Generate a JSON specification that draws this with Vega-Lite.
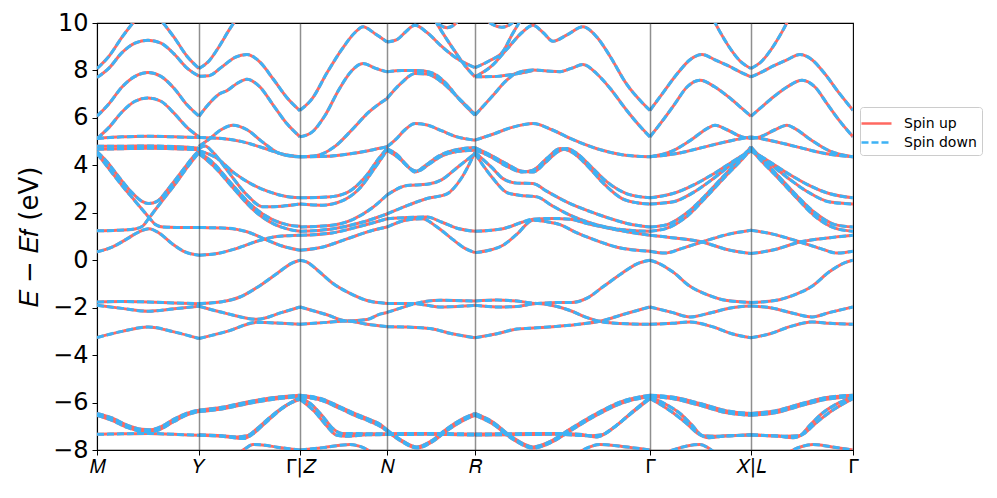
{
"$schema":"https://vega.github.io/schema/vega-lite/v6.json",
"width":756,"height":427,
"autosize":{"type":"none"},
"padding":{"left":97,"top":23,"right":144,"bottom":48},
"background":"white",
"config":{"view":{"stroke":"black","strokeWidth":1.1},"font":"DejaVu Sans"},
"data":{"values":[
{"b":"p1a","x":0,"e":8.08},{"b":"p1a","x":12,"e":8.6},{"b":"p1a","x":25,"e":9.4},{"b":"p1a","x":38,"e":10.1},{"b":"p1a","x":51,"e":10.6},{"b":"p1a","x":64,"e":10.1},{"b":"p1a","x":77,"e":9.4},{"b":"p1a","x":90,"e":8.6},{"b":"p1a","x":102,"e":8.08},
{"b":"p1b","x":0,"e":7.7},{"b":"p1b","x":12,"e":8.1},{"b":"p1b","x":25,"e":8.75},{"b":"p1b","x":38,"e":9.15},{"b":"p1b","x":51,"e":9.27},{"b":"p1b","x":64,"e":9.15},{"b":"p1b","x":77,"e":8.7},{"b":"p1b","x":90,"e":8.1},{"b":"p1b","x":102,"e":7.76},
{"b":"p1c","x":0,"e":6.07},{"b":"p1c","x":12,"e":6.6},{"b":"p1c","x":25,"e":7.3},{"b":"p1c","x":38,"e":7.75},{"b":"p1c","x":51,"e":7.91},{"b":"p1c","x":64,"e":7.75},{"b":"p1c","x":77,"e":7.25},{"b":"p1c","x":90,"e":6.55},{"b":"p1c","x":102,"e":6.07},
{"b":"p1d","x":0,"e":5.13},{"b":"p1d","x":12,"e":5.6},{"b":"p1d","x":25,"e":6.25},{"b":"p1d","x":38,"e":6.7},{"b":"p1d","x":51,"e":6.84},{"b":"p1d","x":64,"e":6.7},{"b":"p1d","x":77,"e":6.2},{"b":"p1d","x":90,"e":5.6},{"b":"p1d","x":102,"e":5.2},
{"b":"p1e","x":0,"e":5.13},{"b":"p1e","x":25,"e":5.2},{"b":"p1e","x":51,"e":5.23},{"b":"p1e","x":77,"e":5.2},{"b":"p1e","x":102,"e":5.17},
{"b":"p1f","x":0,"e":4.8},{"b":"p1f","x":25,"e":4.8},{"b":"p1f","x":51,"e":4.82},{"b":"p1f","x":77,"e":4.79},{"b":"p1f","x":102,"e":4.72},
{"b":"p1g","x":0,"e":4.68},{"b":"p1g","x":25,"e":4.7},{"b":"p1g","x":51,"e":4.72},{"b":"p1g","x":77,"e":4.7},{"b":"p1g","x":102,"e":4.66},
{"b":"p1v","x":0,"e":4.58},{"b":"p1v","x":10,"e":4.15},{"b":"p1v","x":22,"e":3.5},{"b":"p1v","x":35,"e":2.85},{"b":"p1v","x":45,"e":2.48},{"b":"p1v","x":52,"e":2.39},{"b":"p1v","x":60,"e":2.48},{"b":"p1v","x":72,"e":3.05},{"b":"p1v","x":85,"e":3.75},{"b":"p1v","x":95,"e":4.3},{"b":"p1v","x":102,"e":4.62},
{"b":"p1xa","x":0,"e":4.5},{"b":"p1xa","x":12,"e":3.85},{"b":"p1xa","x":25,"e":3.15},{"b":"p1xa","x":38,"e":2.5},{"b":"p1xa","x":48,"e":2.0},{"b":"p1xa","x":53,"e":1.75},{"b":"p1xa","x":58,"e":1.52},{"b":"p1xa","x":66,"e":1.4},{"b":"p1xa","x":80,"e":1.38},{"b":"p1xa","x":102,"e":1.38},
{"b":"p1xb","x":0,"e":1.24},{"b":"p1xb","x":20,"e":1.26},{"b":"p1xb","x":38,"e":1.32},{"b":"p1xb","x":46,"e":1.45},{"b":"p1xb","x":51,"e":1.72},{"b":"p1xb","x":56,"e":2.0},{"b":"p1xb","x":66,"e":2.55},{"b":"p1xb","x":78,"e":3.2},{"b":"p1xb","x":90,"e":3.9},{"b":"p1xb","x":102,"e":4.55},
{"b":"p1c0","x":0,"e":0.35},{"b":"p1c0","x":15,"e":0.55},{"b":"p1c0","x":30,"e":0.9},{"b":"p1c0","x":42,"e":1.2},{"b":"p1c0","x":52,"e":1.33},{"b":"p1c0","x":62,"e":1.15},{"b":"p1c0","x":75,"e":0.7},{"b":"p1c0","x":88,"e":0.35},{"b":"p1c0","x":102,"e":0.21},
{"b":"p1v1","x":0,"e":-1.76},{"b":"p1v1","x":25,"e":-1.74},{"b":"p1v1","x":51,"e":-1.76},{"b":"p1v1","x":77,"e":-1.8},{"b":"p1v1","x":102,"e":-1.83},
{"b":"p1v2","x":0,"e":-1.9},{"b":"p1v2","x":25,"e":-2.03},{"b":"p1v2","x":51,"e":-2.15},{"b":"p1v2","x":77,"e":-2.05},{"b":"p1v2","x":102,"e":-1.94},
{"b":"p1v3","x":0,"e":-3.26},{"b":"p1v3","x":25,"e":-3.0},{"b":"p1v3","x":51,"e":-2.81},{"b":"p1v3","x":77,"e":-3.02},{"b":"p1v3","x":102,"e":-3.3},
{"b":"p1d1","x":0,"e":-6.46},{"b":"p1d1","x":15,"e":-6.65},{"b":"p1d1","x":30,"e":-6.95},{"b":"p1d1","x":45,"e":-7.13},{"b":"p1d1","x":53,"e":-7.15},{"b":"p1d1","x":62,"e":-7.05},{"b":"p1d1","x":77,"e":-6.7},{"b":"p1d1","x":90,"e":-6.45},{"b":"p1d1","x":102,"e":-6.32},
{"b":"p1d1b","x":0,"e":-6.54},{"b":"p1d1b","x":15,"e":-6.75},{"b":"p1d1b","x":30,"e":-7.05},{"b":"p1d1b","x":45,"e":-7.22},{"b":"p1d1b","x":53,"e":-7.25},{"b":"p1d1b","x":62,"e":-7.15},{"b":"p1d1b","x":77,"e":-6.8},{"b":"p1d1b","x":90,"e":-6.52},{"b":"p1d1b","x":102,"e":-6.38},
{"b":"p1d2","x":0,"e":-7.34},{"b":"p1d2","x":25,"e":-7.32},{"b":"p1d2","x":51,"e":-7.3},{"b":"p1d2","x":77,"e":-7.34},{"b":"p1d2","x":102,"e":-7.38},
{"b":"p2a","x":102,"e":8.08},{"b":"p2a","x":112,"e":8.4},{"b":"p2a","x":122,"e":9.0},{"b":"p2a","x":132,"e":9.7},{"b":"p2a","x":140,"e":10.2},{"b":"p2a","x":150,"e":10.8},{"b":"p2a","x":165,"e":11.3},
{"b":"p2b","x":102,"e":7.76},{"b":"p2b","x":112,"e":7.78},{"b":"p2b","x":125,"e":8.15},{"b":"p2b","x":138,"e":8.55},{"b":"p2b","x":150,"e":8.67},{"b":"p2b","x":163,"e":8.35},{"b":"p2b","x":176,"e":7.65},{"b":"p2b","x":190,"e":6.85},{"b":"p2b","x":203,"e":6.3},
{"b":"p2c","x":102,"e":6.07},{"b":"p2c","x":112,"e":6.6},{"b":"p2c","x":122,"e":7.0},{"b":"p2c","x":130,"e":7.15},{"b":"p2c","x":140,"e":7.45},{"b":"p2c","x":150,"e":7.63},{"b":"p2c","x":163,"e":7.3},{"b":"p2c","x":176,"e":6.55},{"b":"p2c","x":190,"e":5.75},{"b":"p2c","x":203,"e":5.2},
{"b":"p2d","x":102,"e":5.17},{"b":"p2d","x":125,"e":5.13},{"b":"p2d","x":145,"e":5.0},{"b":"p2d","x":165,"e":4.75},{"b":"p2d","x":185,"e":4.48},{"b":"p2d","x":203,"e":4.36},
{"b":"p2e","x":102,"e":4.8},{"b":"p2e","x":112,"e":5.1},{"b":"p2e","x":124,"e":5.5},{"b":"p2e","x":136,"e":5.69},{"b":"p2e","x":150,"e":5.5},{"b":"p2e","x":165,"e":5.0},{"b":"p2e","x":180,"e":4.55},{"b":"p2e","x":193,"e":4.39},{"b":"p2e","x":203,"e":4.36},
{"b":"p2f","x":102,"e":4.62},{"b":"p2f","x":120,"e":4.3},{"b":"p2f","x":138,"e":3.65},{"b":"p2f","x":155,"e":3.2},{"b":"p2f","x":171,"e":2.9},{"b":"p2f","x":188,"e":2.7},{"b":"p2f","x":203,"e":2.63},
{"b":"p2g","x":102,"e":4.7},{"b":"p2g","x":108,"e":4.81},{"b":"p2g","x":116,"e":4.55},{"b":"p2g","x":130,"e":3.8},{"b":"p2g","x":150,"e":2.75},{"b":"p2g","x":166,"e":2.25},{"b":"p2g","x":185,"e":2.28},{"b":"p2g","x":203,"e":2.37},
{"b":"p2h","x":102,"e":4.55},{"b":"p2h","x":115,"e":4.15},{"b":"p2h","x":135,"e":3.2},{"b":"p2h","x":155,"e":2.3},{"b":"p2h","x":175,"e":1.72},{"b":"p2h","x":190,"e":1.5},{"b":"p2h","x":203,"e":1.43},
{"b":"p2i","x":102,"e":4.5},{"b":"p2i","x":117,"e":3.95},{"b":"p2i","x":137,"e":3.0},{"b":"p2i","x":157,"e":2.1},{"b":"p2i","x":177,"e":1.52},{"b":"p2i","x":192,"e":1.3},{"b":"p2i","x":203,"e":1.22},
{"b":"p2j","x":102,"e":1.38},{"b":"p2j","x":130,"e":1.35},{"b":"p2j","x":150,"e":1.2},{"b":"p2j","x":170,"e":0.85},{"b":"p2j","x":185,"e":0.6},{"b":"p2j","x":203,"e":0.42},
{"b":"p2k","x":102,"e":0.21},{"b":"p2k","x":120,"e":0.28},{"b":"p2k","x":140,"e":0.5},{"b":"p2k","x":160,"e":0.8},{"b":"p2k","x":180,"e":1.0},{"b":"p2k","x":203,"e":1.05},
{"b":"p2v1","x":102,"e":-1.83},{"b":"p2v1","x":125,"e":-1.75},{"b":"p2v1","x":143,"e":-1.55},{"b":"p2v1","x":160,"e":-1.15},{"b":"p2v1","x":180,"e":-0.56},{"b":"p2v1","x":195,"e":-0.12},{"b":"p2v1","x":203,"e":0.0},
{"b":"p2v2","x":102,"e":-1.94},{"b":"p2v2","x":130,"e":-2.25},{"b":"p2v2","x":160,"e":-2.49},{"b":"p2v2","x":185,"e":-2.2},{"b":"p2v2","x":203,"e":-1.97},
{"b":"p2v3","x":102,"e":-3.3},{"b":"p2v3","x":130,"e":-3.0},{"b":"p2v3","x":160,"e":-2.62},{"b":"p2v3","x":185,"e":-2.66},{"b":"p2v3","x":203,"e":-2.7},
{"b":"p2d1","x":102,"e":-6.32},{"b":"p2d1","x":125,"e":-6.2},{"b":"p2d1","x":150,"e":-5.98},{"b":"p2d1","x":175,"e":-5.8},{"b":"p2d1","x":203,"e":-5.69},
{"b":"p2d1b","x":102,"e":-6.38},{"b":"p2d1b","x":125,"e":-6.27},{"b":"p2d1b","x":150,"e":-6.05},{"b":"p2d1b","x":175,"e":-5.87},{"b":"p2d1b","x":203,"e":-5.75},
{"b":"p2d2","x":102,"e":-7.38},{"b":"p2d2","x":125,"e":-7.42},{"b":"p2d2","x":146,"e":-7.52},{"b":"p2d2","x":156,"e":-7.32},{"b":"p2d2","x":166,"e":-6.95},{"b":"p2d2","x":185,"e":-6.25},{"b":"p2d2","x":203,"e":-5.78},
{"b":"p2d2b","x":102,"e":-7.36},{"b":"p2d2b","x":125,"e":-7.4},{"b":"p2d2b","x":140,"e":-7.45},{"b":"p2d2b","x":150,"e":-7.4},{"b":"p2d2b","x":160,"e":-7.1},{"b":"p2d2b","x":175,"e":-6.55},{"b":"p2d2b","x":190,"e":-6.1},{"b":"p2d2b","x":203,"e":-5.86},
{"b":"p2d3","x":140,"e":-8.2},{"b":"p2d3","x":148,"e":-7.95},{"b":"p2d3","x":156,"e":-7.77},{"b":"p2d3","x":168,"e":-7.8},{"b":"p2d3","x":180,"e":-7.88},{"b":"p2d3","x":203,"e":-8.0},
{"b":"p3a","x":203,"e":6.32},{"b":"p3a","x":215,"e":6.8},{"b":"p3a","x":230,"e":7.9},{"b":"p3a","x":245,"e":8.9},{"b":"p3a","x":258,"e":9.6},{"b":"p3a","x":266,"e":9.84},{"b":"p3a","x":278,"e":9.55},{"b":"p3a","x":290,"e":9.2},
{"b":"p3b","x":203,"e":5.2},{"b":"p3b","x":215,"e":5.4},{"b":"p3b","x":228,"e":6.1},{"b":"p3b","x":242,"e":7.2},{"b":"p3b","x":255,"e":8.0},{"b":"p3b","x":266,"e":8.29},{"b":"p3b","x":278,"e":8.1},{"b":"p3b","x":290,"e":7.94},
{"b":"p3c","x":203,"e":4.36},{"b":"p3c","x":220,"e":4.42},{"b":"p3c","x":238,"e":4.8},{"b":"p3c","x":255,"e":5.5},{"b":"p3c","x":272,"e":6.25},{"b":"p3c","x":290,"e":6.82},
{"b":"p3d","x":203,"e":4.36},{"b":"p3d","x":230,"e":4.38},{"b":"p3d","x":255,"e":4.5},{"b":"p3d","x":275,"e":4.65},{"b":"p3d","x":290,"e":4.78},
{"b":"p3ga","x":203,"e":2.63},{"b":"p3ga","x":230,"e":2.66},{"b":"p3ga","x":250,"e":2.85},{"b":"p3ga","x":268,"e":3.5},{"b":"p3ga","x":282,"e":4.3},{"b":"p3ga","x":290,"e":4.71},
{"b":"p3gb","x":203,"e":2.37},{"b":"p3gb","x":225,"e":2.32},{"b":"p3gb","x":245,"e":2.5},{"b":"p3gb","x":262,"e":3.0},{"b":"p3gb","x":278,"e":3.9},{"b":"p3gb","x":290,"e":4.64},
{"b":"p3gc","x":203,"e":1.4},{"b":"p3gc","x":230,"e":1.45},{"b":"p3gc","x":255,"e":1.7},{"b":"p3gc","x":275,"e":2.2},{"b":"p3gc","x":290,"e":2.75},
{"b":"p3gd","x":203,"e":1.22},{"b":"p3gd","x":235,"e":1.32},{"b":"p3gd","x":265,"e":1.6},{"b":"p3gd","x":290,"e":1.95},
{"b":"p3ge","x":203,"e":1.05},{"b":"p3ge","x":235,"e":1.15},{"b":"p3ge","x":265,"e":1.45},{"b":"p3ge","x":290,"e":1.75},
{"b":"p3gf","x":203,"e":0.42},{"b":"p3gf","x":225,"e":0.55},{"b":"p3gf","x":250,"e":0.9},{"b":"p3gf","x":275,"e":1.25},{"b":"p3gf","x":290,"e":1.4},
{"b":"p3v1","x":203,"e":0.0},{"b":"p3v1","x":210,"e":-0.08},{"b":"p3v1","x":220,"e":-0.4},{"b":"p3v1","x":235,"e":-0.95},{"b":"p3v1","x":253,"e":-1.4},{"b":"p3v1","x":270,"e":-1.7},{"b":"p3v1","x":290,"e":-1.82},
{"b":"p3v2","x":203,"e":-1.97},{"b":"p3v2","x":230,"e":-2.3},{"b":"p3v2","x":250,"e":-2.56},{"b":"p3v2","x":270,"e":-2.5},{"b":"p3v2","x":283,"e":-2.27},{"b":"p3v2","x":290,"e":-2.2},
{"b":"p3v3","x":203,"e":-2.7},{"b":"p3v3","x":230,"e":-2.62},{"b":"p3v3","x":250,"e":-2.56},{"b":"p3v3","x":270,"e":-2.7},{"b":"p3v3","x":290,"e":-2.8},
{"b":"p3d1","x":203,"e":-5.69},{"b":"p3d1","x":225,"e":-5.85},{"b":"p3d1","x":243,"e":-6.18},{"b":"p3d1","x":260,"e":-6.5},{"b":"p3d1","x":273,"e":-6.72},{"b":"p3d1","x":283,"e":-6.92},{"b":"p3d1","x":290,"e":-7.15},
{"b":"p3d1b","x":203,"e":-5.75},{"b":"p3d1b","x":225,"e":-5.92},{"b":"p3d1b","x":243,"e":-6.25},{"b":"p3d1b","x":260,"e":-6.58},{"b":"p3d1b","x":273,"e":-6.8},{"b":"p3d1b","x":283,"e":-7.0},{"b":"p3d1b","x":290,"e":-7.2},
{"b":"p3d2","x":203,"e":-5.78},{"b":"p3d2","x":215,"e":-6.1},{"b":"p3d2","x":226,"e":-6.6},{"b":"p3d2","x":236,"e":-7.1},{"b":"p3d2","x":245,"e":-7.3},{"b":"p3d2","x":265,"e":-7.31},{"b":"p3d2","x":290,"e":-7.31},
{"b":"p3d2b","x":203,"e":-5.86},{"b":"p3d2b","x":218,"e":-6.4},{"b":"p3d2b","x":230,"e":-7.0},{"b":"p3d2b","x":240,"e":-7.38},{"b":"p3d2b","x":250,"e":-7.42},{"b":"p3d2b","x":270,"e":-7.36},{"b":"p3d2b","x":290,"e":-7.35},
{"b":"p3d3","x":203,"e":-8.0},{"b":"p3d3","x":226,"e":-7.9},{"b":"p3d3","x":253,"e":-7.77},{"b":"p3d3","x":263,"e":-7.85},{"b":"p3d3","x":275,"e":-8.1},
{"b":"p4a","x":290,"e":9.2},{"b":"p4a","x":300,"e":9.3},{"b":"p4a","x":308,"e":9.6},{"b":"p4a","x":318,"e":9.9},{"b":"p4a","x":330,"e":9.6},{"b":"p4a","x":345,"e":9.0},{"b":"p4a","x":360,"e":8.5},{"b":"p4a","x":378,"e":8.12},
{"b":"p4a2","x":333,"e":10.5},{"b":"p4a2","x":341,"e":9.9},{"b":"p4a2","x":350,"e":9.3},{"b":"p4a2","x":358,"e":8.8},{"b":"p4a2","x":368,"e":8.2},{"b":"p4a2","x":378,"e":7.73},
{"b":"p4a3","x":335,"e":10.3},{"b":"p4a3","x":342,"e":9.95},{"b":"p4a3","x":350,"e":9.8},{"b":"p4a3","x":358,"e":9.95},{"b":"p4a3","x":364,"e":10.3},
{"b":"p4b","x":290,"e":7.94},{"b":"p4b","x":305,"e":8.0},{"b":"p4b","x":320,"e":8.0},{"b":"p4b","x":335,"e":7.9},{"b":"p4b","x":348,"e":7.5},{"b":"p4b","x":362,"e":6.8},{"b":"p4b","x":378,"e":6.11},
{"b":"p4c","x":290,"e":6.82},{"b":"p4c","x":305,"e":7.5},{"b":"p4c","x":318,"e":7.87},{"b":"p4c","x":330,"e":7.85},{"b":"p4c","x":345,"e":7.5},{"b":"p4c","x":360,"e":6.9},{"b":"p4c","x":378,"e":6.15},
{"b":"p4m","x":290,"e":4.78},{"b":"p4m","x":298,"e":5.06},{"b":"p4m","x":308,"e":5.5},{"b":"p4m","x":318,"e":5.76},{"b":"p4m","x":330,"e":5.7},{"b":"p4m","x":345,"e":5.45},{"b":"p4m","x":360,"e":5.2},{"b":"p4m","x":378,"e":5.06},
{"b":"p4va","x":290,"e":4.71},{"b":"p4va","x":300,"e":4.45},{"b":"p4va","x":310,"e":4.0},{"b":"p4va","x":318,"e":3.72},{"b":"p4va","x":328,"e":3.98},{"b":"p4va","x":340,"e":4.35},{"b":"p4va","x":355,"e":4.62},{"b":"p4va","x":378,"e":4.75},
{"b":"p4vb","x":290,"e":4.64},{"b":"p4vb","x":302,"e":4.3},{"b":"p4vb","x":312,"e":3.9},{"b":"p4vb","x":320,"e":3.75},{"b":"p4vb","x":332,"e":4.05},{"b":"p4vb","x":345,"e":4.4},{"b":"p4vb","x":360,"e":4.58},{"b":"p4vb","x":378,"e":4.64},
{"b":"p4gc","x":290,"e":2.75},{"b":"p4gc","x":310,"e":3.15},{"b":"p4gc","x":330,"e":3.2},{"b":"p4gc","x":345,"e":3.4},{"b":"p4gc","x":360,"e":3.9},{"b":"p4gc","x":378,"e":4.5},
{"b":"p4gd","x":290,"e":1.95},{"b":"p4gd","x":310,"e":2.3},{"b":"p4gd","x":330,"e":2.6},{"b":"p4gd","x":350,"e":2.8},{"b":"p4gd","x":365,"e":3.5},{"b":"p4gd","x":378,"e":4.55},
{"b":"p4ge","x":290,"e":1.75},{"b":"p4ge","x":310,"e":1.8},{"b":"p4ge","x":330,"e":1.82},{"b":"p4ge","x":345,"e":1.6},{"b":"p4ge","x":360,"e":1.35},{"b":"p4ge","x":378,"e":1.22},
{"b":"p4gf","x":290,"e":1.4},{"b":"p4gf","x":310,"e":1.7},{"b":"p4gf","x":325,"e":1.75},{"b":"p4gf","x":340,"e":1.4},{"b":"p4gf","x":355,"e":0.9},{"b":"p4gf","x":368,"e":0.5},{"b":"p4gf","x":378,"e":0.32},
{"b":"p4v1","x":290,"e":-1.82},{"b":"p4v1","x":316,"e":-1.82},{"b":"p4v1","x":330,"e":-1.9},{"b":"p4v1","x":343,"e":-1.97},{"b":"p4v1","x":360,"e":-1.95},{"b":"p4v1","x":378,"e":-1.9},
{"b":"p4v2","x":290,"e":-2.2},{"b":"p4v2","x":305,"e":-2.0},{"b":"p4v2","x":316,"e":-1.85},{"b":"p4v2","x":343,"e":-1.69},{"b":"p4v2","x":378,"e":-1.72},
{"b":"p4v3","x":290,"e":-2.8},{"b":"p4v3","x":310,"e":-2.82},{"b":"p4v3","x":333,"e":-2.88},{"b":"p4v3","x":355,"e":-3.1},{"b":"p4v3","x":378,"e":-3.27},
{"b":"p4d1","x":290,"e":-7.15},{"b":"p4d1","x":305,"e":-7.6},{"b":"p4d1","x":320,"e":-7.87},{"b":"p4d1","x":335,"e":-7.6},{"b":"p4d1","x":350,"e":-7.1},{"b":"p4d1","x":365,"e":-6.7},{"b":"p4d1","x":378,"e":-6.46},
{"b":"p4d1b","x":290,"e":-7.2},{"b":"p4d1b","x":305,"e":-7.65},{"b":"p4d1b","x":320,"e":-7.92},{"b":"p4d1b","x":335,"e":-7.66},{"b":"p4d1b","x":350,"e":-7.18},{"b":"p4d1b","x":365,"e":-6.78},{"b":"p4d1b","x":378,"e":-6.54},
{"b":"p4d2","x":290,"e":-7.31},{"b":"p4d2","x":330,"e":-7.3},{"b":"p4d2","x":378,"e":-7.33},
{"b":"p4d2b","x":290,"e":-7.35},{"b":"p4d2b","x":330,"e":-7.34},{"b":"p4d2b","x":378,"e":-7.37},
{"b":"p5t1","x":378,"e":8.12},{"b":"p5t1","x":392,"e":8.4},{"b":"p5t1","x":406,"e":8.8},{"b":"p5t1","x":415,"e":9.5},{"b":"p5t1","x":422,"e":10.0},{"b":"p5t1","x":430,"e":10.5},{"b":"p5t1","x":440,"e":11.0},
{"b":"p5t2","x":378,"e":7.73},{"b":"p5t2","x":395,"e":8.2},{"b":"p5t2","x":410,"e":8.9},{"b":"p5t2","x":425,"e":9.6},{"b":"p5t2","x":436,"e":9.9},{"b":"p5t2","x":446,"e":9.6},{"b":"p5t2","x":456,"e":9.23},{"b":"p5t2","x":470,"e":9.5},{"b":"p5t2","x":486,"e":9.84},{"b":"p5t2","x":500,"e":9.4},{"b":"p5t2","x":513,"e":8.6},{"b":"p5t2","x":530,"e":7.4},{"b":"p5t2","x":545,"e":6.65},{"b":"p5t2","x":553,"e":6.32},
{"b":"p5t4","x":385,"e":10.3},{"b":"p5t4","x":395,"e":9.95},{"b":"p5t4","x":405,"e":9.82},{"b":"p5t4","x":415,"e":10.0},{"b":"p5t4","x":422,"e":10.4},
{"b":"p5t3","x":378,"e":6.11},{"b":"p5t3","x":395,"e":6.9},{"b":"p5t3","x":410,"e":7.6},{"b":"p5t3","x":420,"e":7.9},{"b":"p5t3","x":436,"e":8.02},{"b":"p5t3","x":450,"e":7.98},{"b":"p5t3","x":463,"e":7.95},{"b":"p5t3","x":475,"e":8.1},{"b":"p5t3","x":486,"e":8.25},{"b":"p5t3","x":500,"e":7.85},{"b":"p5t3","x":513,"e":7.25},{"b":"p5t3","x":530,"e":6.3},{"b":"p5t3","x":545,"e":5.55},{"b":"p5t3","x":553,"e":5.2},
{"b":"p5t3b","x":378,"e":7.73},{"b":"p5t3b","x":400,"e":7.75},{"b":"p5t3b","x":418,"e":7.85},{"b":"p5t3b","x":436,"e":8.0},
{"b":"p5m","x":378,"e":5.06},{"b":"p5m","x":395,"e":5.3},{"b":"p5m","x":415,"e":5.6},{"b":"p5m","x":436,"e":5.76},{"b":"p5m","x":455,"e":5.5},{"b":"p5m","x":475,"e":5.1},{"b":"p5m","x":500,"e":4.7},{"b":"p5m","x":525,"e":4.45},{"b":"p5m","x":553,"e":4.36},
{"b":"p5va","x":378,"e":4.75},{"b":"p5va","x":395,"e":4.4},{"b":"p5va","x":410,"e":4.05},{"b":"p5va","x":425,"e":3.75},{"b":"p5va","x":436,"e":3.72},{"b":"p5va","x":448,"e":4.1},{"b":"p5va","x":460,"e":4.55},{"b":"p5va","x":470,"e":4.71},{"b":"p5va","x":480,"e":4.5},{"b":"p5va","x":495,"e":3.9},{"b":"p5va","x":510,"e":3.3},{"b":"p5va","x":530,"e":2.8},{"b":"p5va","x":553,"e":2.63},
{"b":"p5vb","x":378,"e":4.64},{"b":"p5vb","x":392,"e":4.4},{"b":"p5vb","x":408,"e":4.0},{"b":"p5vb","x":425,"e":3.72},{"b":"p5vb","x":436,"e":3.8},{"b":"p5vb","x":450,"e":4.3},{"b":"p5vb","x":463,"e":4.71},{"b":"p5vb","x":475,"e":4.55},{"b":"p5vb","x":490,"e":4.0},{"b":"p5vb","x":505,"e":3.3},{"b":"p5vb","x":525,"e":2.6},{"b":"p5vb","x":540,"e":2.42},{"b":"p5vb","x":553,"e":2.37},
{"b":"p5wa","x":378,"e":4.55},{"b":"p5wa","x":395,"e":3.9},{"b":"p5wa","x":406,"e":3.44},{"b":"p5wa","x":420,"e":3.25},{"b":"p5wa","x":436,"e":3.23},{"b":"p5wa","x":450,"e":2.9},{"b":"p5wa","x":470,"e":2.45},{"b":"p5wa","x":490,"e":2.1},{"b":"p5wa","x":510,"e":1.8},{"b":"p5wa","x":530,"e":1.55},{"b":"p5wa","x":553,"e":1.4},
{"b":"p5wb","x":378,"e":4.5},{"b":"p5wb","x":395,"e":3.5},{"b":"p5wb","x":410,"e":2.85},{"b":"p5wb","x":422,"e":2.74},{"b":"p5wb","x":440,"e":2.67},{"b":"p5wb","x":455,"e":2.3},{"b":"p5wb","x":473,"e":1.9},{"b":"p5wb","x":495,"e":1.55},{"b":"p5wb","x":515,"e":1.35},{"b":"p5wb","x":535,"e":1.25},{"b":"p5wb","x":553,"e":1.22},
{"b":"p5la","x":378,"e":1.22},{"b":"p5la","x":406,"e":1.33},{"b":"p5la","x":425,"e":1.6},{"b":"p5la","x":436,"e":1.73},{"b":"p5la","x":455,"e":1.76},{"b":"p5la","x":473,"e":1.73},{"b":"p5la","x":490,"e":1.55},{"b":"p5la","x":506,"e":1.4},{"b":"p5la","x":530,"e":1.2},{"b":"p5la","x":553,"e":1.05},
{"b":"p5lb","x":378,"e":0.32},{"b":"p5lb","x":395,"e":0.45},{"b":"p5lb","x":406,"e":0.63},{"b":"p5lb","x":420,"e":1.1},{"b":"p5lb","x":436,"e":1.69},{"b":"p5lb","x":450,"e":1.62},{"b":"p5lb","x":463,"e":1.5},{"b":"p5lb","x":480,"e":1.15},{"b":"p5lb","x":495,"e":0.9},{"b":"p5lb","x":520,"e":0.55},{"b":"p5lb","x":553,"e":0.38},
{"b":"p5v1","x":378,"e":-1.72},{"b":"p5v1","x":400,"e":-1.68},{"b":"p5v1","x":420,"e":-1.72},{"b":"p5v1","x":440,"e":-1.82},{"b":"p5v1","x":460,"e":-1.78},{"b":"p5v1","x":475,"e":-1.78},{"b":"p5v1","x":490,"e":-1.6},{"b":"p5v1","x":506,"e":-1.12},{"b":"p5v1","x":525,"e":-0.55},{"b":"p5v1","x":540,"e":-0.15},{"b":"p5v1","x":553,"e":0.0},
{"b":"p5v2","x":378,"e":-1.9},{"b":"p5v2","x":400,"e":-1.97},{"b":"p5v2","x":420,"e":-1.95},{"b":"p5v2","x":440,"e":-1.82},{"b":"p5v2","x":460,"e":-1.95},{"b":"p5v2","x":475,"e":-2.15},{"b":"p5v2","x":490,"e":-2.42},{"b":"p5v2","x":506,"e":-2.6},{"b":"p5v2","x":530,"e":-2.68},{"b":"p5v2","x":553,"e":-2.7},
{"b":"p5v3","x":378,"e":-3.27},{"b":"p5v3","x":400,"e":-3.1},{"b":"p5v3","x":420,"e":-2.9},{"b":"p5v3","x":440,"e":-2.85},{"b":"p5v3","x":473,"e":-2.74},{"b":"p5v3","x":490,"e":-2.66},{"b":"p5v3","x":506,"e":-2.54},{"b":"p5v3","x":525,"e":-2.3},{"b":"p5v3","x":553,"e":-1.97},
{"b":"p5d1","x":378,"e":-6.46},{"b":"p5d1","x":395,"e":-6.8},{"b":"p5d1","x":415,"e":-7.45},{"b":"p5d1","x":436,"e":-7.87},{"b":"p5d1","x":455,"e":-7.6},{"b":"p5d1","x":473,"e":-7.12},{"b":"p5d1","x":500,"e":-6.45},{"b":"p5d1","x":525,"e":-5.95},{"b":"p5d1","x":553,"e":-5.69},
{"b":"p5d1b","x":378,"e":-6.54},{"b":"p5d1b","x":395,"e":-6.88},{"b":"p5d1b","x":415,"e":-7.52},{"b":"p5d1b","x":436,"e":-7.92},{"b":"p5d1b","x":455,"e":-7.66},{"b":"p5d1b","x":473,"e":-7.2},{"b":"p5d1b","x":500,"e":-6.52},{"b":"p5d1b","x":525,"e":-6.02},{"b":"p5d1b","x":553,"e":-5.75},
{"b":"p5d2","x":378,"e":-7.33},{"b":"p5d2","x":420,"e":-7.31},{"b":"p5d2","x":460,"e":-7.3},{"b":"p5d2","x":485,"e":-7.35},{"b":"p5d2","x":500,"e":-7.45},{"b":"p5d2","x":515,"e":-7.1},{"b":"p5d2","x":530,"e":-6.6},{"b":"p5d2","x":553,"e":-5.83},
{"b":"p5d2b","x":378,"e":-7.37},{"b":"p5d2b","x":460,"e":-7.34},{"b":"p5d2b","x":493,"e":-7.4},{"b":"p5d2b","x":505,"e":-7.36},{"b":"p5d2b","x":520,"e":-6.95},{"b":"p5d2b","x":535,"e":-6.4},{"b":"p5d2b","x":553,"e":-5.78},
{"b":"p5d3","x":478,"e":-8.2},{"b":"p5d3","x":486,"e":-8.0},{"b":"p5d3","x":503,"e":-7.77},{"b":"p5d3","x":525,"e":-7.85},{"b":"p5d3","x":553,"e":-8.0},
{"b":"p6q1","x":600,"e":11.2},{"b":"p6q1","x":612,"e":10.5},{"b":"p6q1","x":622,"e":9.7},{"b":"p6q1","x":632,"e":9.0},{"b":"p6q1","x":643,"e":8.4},{"b":"p6q1","x":654,"e":8.08},
{"b":"p6q2","x":553,"e":6.32},{"b":"p6q2","x":565,"e":7.0},{"b":"p6q2","x":581,"e":7.9},{"b":"p6q2","x":593,"e":8.45},{"b":"p6q2","x":605,"e":8.67},{"b":"p6q2","x":618,"e":8.45},{"b":"p6q2","x":631,"e":8.2},{"b":"p6q2","x":645,"e":7.9},{"b":"p6q2","x":654,"e":7.73},
{"b":"p6q3","x":553,"e":5.2},{"b":"p6q3","x":565,"e":5.85},{"b":"p6q3","x":578,"e":6.6},{"b":"p6q3","x":590,"e":7.3},{"b":"p6q3","x":603,"e":7.59},{"b":"p6q3","x":618,"e":7.3},{"b":"p6q3","x":631,"e":6.9},{"b":"p6q3","x":645,"e":6.4},{"b":"p6q3","x":654,"e":6.07},
{"b":"p6q4","x":553,"e":4.36},{"b":"p6q4","x":575,"e":4.6},{"b":"p6q4","x":595,"e":5.1},{"b":"p6q4","x":610,"e":5.55},{"b":"p6q4","x":618,"e":5.69},{"b":"p6q4","x":630,"e":5.5},{"b":"p6q4","x":645,"e":5.2},{"b":"p6q4","x":654,"e":5.13},
{"b":"p6q5","x":553,"e":4.36},{"b":"p6q5","x":580,"e":4.5},{"b":"p6q5","x":610,"e":4.8},{"b":"p6q5","x":635,"e":5.05},{"b":"p6q5","x":654,"e":5.2},
{"b":"p6q6","x":553,"e":2.63},{"b":"p6q6","x":575,"e":2.8},{"b":"p6q6","x":598,"e":3.2},{"b":"p6q6","x":615,"e":3.6},{"b":"p6q6","x":630,"e":4.0},{"b":"p6q6","x":645,"e":4.4},{"b":"p6q6","x":654,"e":4.6},
{"b":"p6q7","x":553,"e":2.37},{"b":"p6q7","x":575,"e":2.45},{"b":"p6q7","x":598,"e":2.9},{"b":"p6q7","x":615,"e":3.4},{"b":"p6q7","x":630,"e":3.9},{"b":"p6q7","x":645,"e":4.4},{"b":"p6q7","x":654,"e":4.7},
{"b":"p6q8","x":553,"e":1.4},{"b":"p6q8","x":570,"e":1.5},{"b":"p6q8","x":590,"e":2.0},{"b":"p6q8","x":610,"e":2.8},{"b":"p6q8","x":630,"e":3.7},{"b":"p6q8","x":645,"e":4.35},{"b":"p6q8","x":654,"e":4.78},
{"b":"p6q9","x":553,"e":1.22},{"b":"p6q9","x":570,"e":1.35},{"b":"p6q9","x":590,"e":1.85},{"b":"p6q9","x":610,"e":2.7},{"b":"p6q9","x":630,"e":3.6},{"b":"p6q9","x":645,"e":4.25},{"b":"p6q9","x":654,"e":4.68},
{"b":"p6q11","x":553,"e":0.38},{"b":"p6q11","x":568,"e":0.3},{"b":"p6q11","x":585,"e":0.5},{"b":"p6q11","x":605,"e":0.77},{"b":"p6q11","x":630,"e":1.08},{"b":"p6q11","x":654,"e":1.26},
{"b":"p6q12","x":553,"e":1.05},{"b":"p6q12","x":575,"e":0.95},{"b":"p6q12","x":605,"e":0.77},{"b":"p6q12","x":630,"e":0.45},{"b":"p6q12","x":654,"e":0.28},
{"b":"p6v1","x":553,"e":0.0},{"b":"p6v1","x":560,"e":-0.1},{"b":"p6v1","x":576,"e":-0.5},{"b":"p6v1","x":593,"e":-1.1},{"b":"p6v1","x":610,"e":-1.45},{"b":"p6v1","x":630,"e":-1.7},{"b":"p6v1","x":654,"e":-1.78},
{"b":"p6v2","x":553,"e":-1.97},{"b":"p6v2","x":575,"e":-2.2},{"b":"p6v2","x":593,"e":-2.39},{"b":"p6v2","x":615,"e":-2.2},{"b":"p6v2","x":635,"e":-2.0},{"b":"p6v2","x":654,"e":-1.93},
{"b":"p6v3","x":553,"e":-2.7},{"b":"p6v3","x":575,"e":-2.66},{"b":"p6v3","x":593,"e":-2.6},{"b":"p6v3","x":615,"e":-2.8},{"b":"p6v3","x":635,"e":-3.1},{"b":"p6v3","x":654,"e":-3.27},
{"b":"p6d1","x":553,"e":-5.69},{"b":"p6d1","x":580,"e":-5.8},{"b":"p6d1","x":603,"e":-6.04},{"b":"p6d1","x":630,"e":-6.35},{"b":"p6d1","x":654,"e":-6.46},
{"b":"p6d1b","x":553,"e":-5.75},{"b":"p6d1b","x":580,"e":-5.87},{"b":"p6d1b","x":603,"e":-6.12},{"b":"p6d1b","x":630,"e":-6.43},{"b":"p6d1b","x":654,"e":-6.54},
{"b":"p6d2","x":553,"e":-5.76},{"b":"p6d2","x":570,"e":-6.1},{"b":"p6d2","x":583,"e":-6.46},{"b":"p6d2","x":595,"e":-6.95},{"b":"p6d2","x":606,"e":-7.4},{"b":"p6d2","x":620,"e":-7.42},{"b":"p6d2","x":654,"e":-7.35},
{"b":"p6d2b","x":553,"e":-5.83},{"b":"p6d2b","x":575,"e":-6.4},{"b":"p6d2b","x":590,"e":-6.9},{"b":"p6d2b","x":600,"e":-7.28},{"b":"p6d2b","x":612,"e":-7.48},{"b":"p6d2b","x":630,"e":-7.4},{"b":"p6d2b","x":654,"e":-7.38},
{"b":"p6d3","x":565,"e":-8.2},{"b":"p6d3","x":576,"e":-8.0},{"b":"p6d3","x":590,"e":-7.83},{"b":"p6d3","x":603,"e":-7.77},{"b":"p6d3","x":610,"e":-7.88},{"b":"p6d3","x":616,"e":-8.05},{"b":"p6d3","x":622,"e":-8.2},
{"b":"p7q1","x":654,"e":8.08},{"b":"p7q1","x":665,"e":8.4},{"b":"p7q1","x":676,"e":9.0},{"b":"p7q1","x":686,"e":9.7},{"b":"p7q1","x":696,"e":10.5},{"b":"p7q1","x":708,"e":11.2},
{"b":"p7q2","x":654,"e":7.73},{"b":"p7q2","x":663,"e":7.9},{"b":"p7q2","x":677,"e":8.2},{"b":"p7q2","x":690,"e":8.45},{"b":"p7q2","x":703,"e":8.67},{"b":"p7q2","x":715,"e":8.45},{"b":"p7q2","x":727,"e":7.9},{"b":"p7q2","x":743,"e":7.0},{"b":"p7q2","x":756,"e":6.32},
{"b":"p7q3","x":654,"e":6.07},{"b":"p7q3","x":663,"e":6.4},{"b":"p7q3","x":677,"e":6.9},{"b":"p7q3","x":690,"e":7.3},{"b":"p7q3","x":705,"e":7.59},{"b":"p7q3","x":718,"e":7.3},{"b":"p7q3","x":730,"e":6.6},{"b":"p7q3","x":743,"e":5.85},{"b":"p7q3","x":756,"e":5.2},
{"b":"p7q4","x":654,"e":5.13},{"b":"p7q4","x":663,"e":5.2},{"b":"p7q4","x":678,"e":5.5},{"b":"p7q4","x":690,"e":5.69},{"b":"p7q4","x":698,"e":5.55},{"b":"p7q4","x":713,"e":5.1},{"b":"p7q4","x":733,"e":4.6},{"b":"p7q4","x":756,"e":4.36},
{"b":"p7q5","x":654,"e":5.2},{"b":"p7q5","x":673,"e":5.05},{"b":"p7q5","x":698,"e":4.8},{"b":"p7q5","x":728,"e":4.5},{"b":"p7q5","x":756,"e":4.36},
{"b":"p7q6","x":654,"e":4.6},{"b":"p7q6","x":663,"e":4.4},{"b":"p7q6","x":678,"e":4.0},{"b":"p7q6","x":693,"e":3.6},{"b":"p7q6","x":710,"e":3.2},{"b":"p7q6","x":733,"e":2.8},{"b":"p7q6","x":756,"e":2.63},
{"b":"p7q7","x":654,"e":4.7},{"b":"p7q7","x":663,"e":4.4},{"b":"p7q7","x":678,"e":3.9},{"b":"p7q7","x":693,"e":3.4},{"b":"p7q7","x":710,"e":2.9},{"b":"p7q7","x":733,"e":2.45},{"b":"p7q7","x":756,"e":2.37},
{"b":"p7q8","x":654,"e":4.78},{"b":"p7q8","x":663,"e":4.35},{"b":"p7q8","x":678,"e":3.7},{"b":"p7q8","x":698,"e":2.8},{"b":"p7q8","x":718,"e":2.0},{"b":"p7q8","x":738,"e":1.5},{"b":"p7q8","x":756,"e":1.4},
{"b":"p7q9","x":654,"e":4.68},{"b":"p7q9","x":663,"e":4.25},{"b":"p7q9","x":678,"e":3.6},{"b":"p7q9","x":698,"e":2.7},{"b":"p7q9","x":718,"e":1.85},{"b":"p7q9","x":738,"e":1.35},{"b":"p7q9","x":756,"e":1.22},
{"b":"p7q11","x":654,"e":1.26},{"b":"p7q11","x":678,"e":1.08},{"b":"p7q11","x":703,"e":0.77},{"b":"p7q11","x":723,"e":0.5},{"b":"p7q11","x":740,"e":0.3},{"b":"p7q11","x":756,"e":0.38},
{"b":"p7q12","x":654,"e":0.28},{"b":"p7q12","x":678,"e":0.45},{"b":"p7q12","x":703,"e":0.77},{"b":"p7q12","x":733,"e":0.95},{"b":"p7q12","x":756,"e":1.05},
{"b":"p7v1","x":654,"e":-1.78},{"b":"p7v1","x":678,"e":-1.7},{"b":"p7v1","x":698,"e":-1.45},{"b":"p7v1","x":715,"e":-1.1},{"b":"p7v1","x":732,"e":-0.5},{"b":"p7v1","x":748,"e":-0.1},{"b":"p7v1","x":756,"e":0.0},
{"b":"p7v2","x":654,"e":-1.93},{"b":"p7v2","x":673,"e":-2.0},{"b":"p7v2","x":693,"e":-2.2},{"b":"p7v2","x":715,"e":-2.39},{"b":"p7v2","x":733,"e":-2.2},{"b":"p7v2","x":756,"e":-1.97},
{"b":"p7v3","x":654,"e":-3.27},{"b":"p7v3","x":673,"e":-3.1},{"b":"p7v3","x":693,"e":-2.8},{"b":"p7v3","x":715,"e":-2.6},{"b":"p7v3","x":733,"e":-2.66},{"b":"p7v3","x":756,"e":-2.7},
{"b":"p7d1","x":654,"e":-6.46},{"b":"p7d1","x":678,"e":-6.35},{"b":"p7d1","x":705,"e":-6.04},{"b":"p7d1","x":728,"e":-5.8},{"b":"p7d1","x":756,"e":-5.69},
{"b":"p7d1b","x":654,"e":-6.54},{"b":"p7d1b","x":678,"e":-6.43},{"b":"p7d1b","x":705,"e":-6.12},{"b":"p7d1b","x":728,"e":-5.87},{"b":"p7d1b","x":756,"e":-5.75},
{"b":"p7d2","x":654,"e":-7.35},{"b":"p7d2","x":688,"e":-7.42},{"b":"p7d2","x":702,"e":-7.4},{"b":"p7d2","x":713,"e":-6.95},{"b":"p7d2","x":725,"e":-6.46},{"b":"p7d2","x":738,"e":-6.1},{"b":"p7d2","x":756,"e":-5.76},
{"b":"p7d2b","x":654,"e":-7.38},{"b":"p7d2b","x":678,"e":-7.4},{"b":"p7d2b","x":696,"e":-7.48},{"b":"p7d2b","x":708,"e":-7.28},{"b":"p7d2b","x":718,"e":-6.9},{"b":"p7d2b","x":733,"e":-6.4},{"b":"p7d2b","x":756,"e":-5.83},
{"b":"p7d3","x":688,"e":-8.2},{"b":"p7d3","x":696,"e":-8.0},{"b":"p7d3","x":705,"e":-7.85},{"b":"p7d3","x":716,"e":-7.77},{"b":"p7d3","x":735,"e":-7.87},{"b":"p7d3","x":756,"e":-8.0}
]},
"encoding":{
 "x":{"field":"x","type":"quantitative","scale":{"domain":[0,756],"nice":false,"zero":false},
  "axis":{"values":[0,102,203,290,378,553,654,756],"title":null,
   "labelExpr":"datum.value==0?'𝑀':datum.value==102?'𝑌':datum.value==203?'Γ|𝑍':datum.value==290?'𝑁':datum.value==378?'𝑅':datum.value==654?'𝑋|𝐿':'Γ'",
   "labelFontSize":19,"labelFont":"DejaVu Sans","labelColor":"black","labelPadding":2,"labelFlush":false,"labelOverlap":false,"labelBound":false,
   "tickColor":"black","tickSize":5,"tickWidth":1,"domainColor":"black","domainWidth":1.1,
   "grid":true,"gridColor":"#444444","gridWidth":1.5,
   "gridOpacity":{"condition":{"test":"datum.value==0||datum.value==756","value":0},"value":0.6},
   "zindex":1}},
 "y":{"field":"e","type":"quantitative","scale":{"domain":[-8,10],"nice":false,"zero":false},
  "axis":{"values":[-8,-6,-4,-2,0,2,4,6,8,10],"title":"𝐸 − 𝐸𝑓 (eV)","titleFontSize":26,"titleFont":"DejaVu Sans","titleFontWeight":"normal","titleColor":"black","titlePadding":10,
   "labelFontSize":24,"labelFont":"DejaVu Sans","labelColor":"black","labelPadding":4,"labelFlush":false,"labelOverlap":false,
   "tickColor":"black","tickSize":5,"tickWidth":1,"domainColor":"black","domainWidth":1.1,"grid":false}}
},
"layer":[
 {"mark":{"type":"line","clip":true,"interpolate":"monotone","strokeWidth":3},
  "encoding":{"detail":{"field":"b"},
   "color":{"datum":"Spin up","scale":{"domain":["Spin up","Spin down"],"range":["#ff6961","#3eb2f5"]},
    "legend":{"title":null,"orient":"none","legendX":763,"legendY":84,"symbolType":"M-1.5,0H1.5","symbolSize":400,"symbolStrokeWidth":2.5,
     "labelFontSize":14,"labelFont":"DejaVu Sans","labelColor":"black","labelOffset":16,"padding":5,"rowPadding":0,
     "strokeColor":"#cccccc","fillColor":"white","cornerRadius":3,
     "encode":{"symbols":{"update":{"strokeDash":{"signal":"datum.value === 'Spin down' ? [7,3] : [1,0]"},"fill":{"value":"transparent"}}}}}}}},
 {"mark":{"type":"line","clip":true,"interpolate":"monotone","strokeWidth":3,"strokeDash":[7,3]},
  "encoding":{"detail":{"field":"b"},"color":{"datum":"Spin down"}}},
 {"mark":{"type":"rule","color":"black","strokeWidth":2,"strokeDash":[8,4]},
  "encoding":{"y":{"datum":0}}}
]
}
